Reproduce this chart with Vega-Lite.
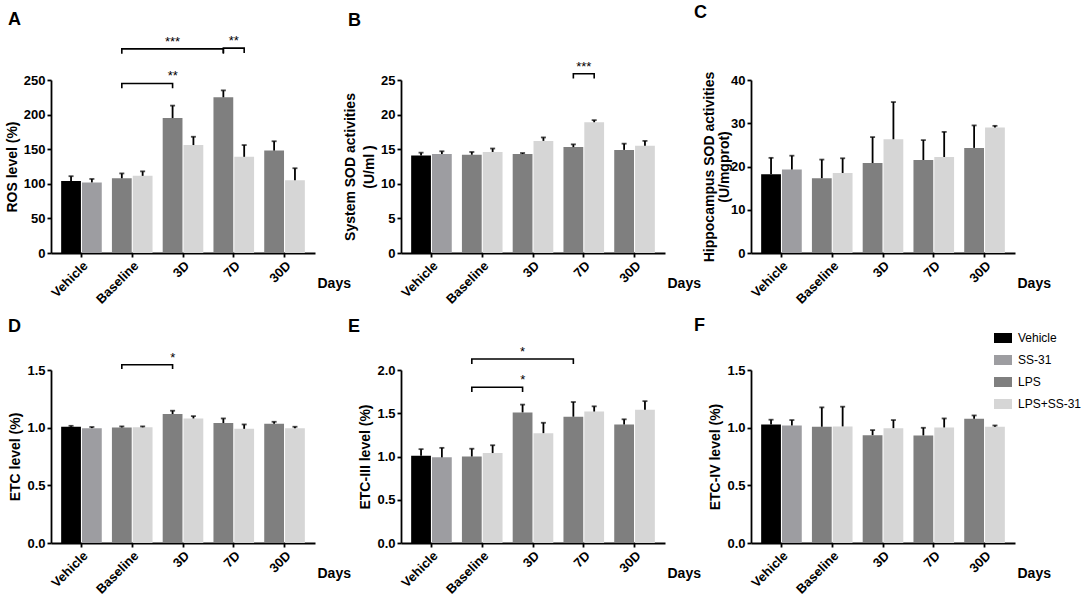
{
  "$schema": "https://vega.github.io/schema/vega-lite/v6.json",
  "padding": {"left": 5, "top": 4, "right": 0, "bottom": 0},
  "background": "white",
  "datasets": {
    "bars": [
      {"panel": "A", "day": "Vehicle", "ss": "without", "group": "Vehicle", "value": 104, "upper": 111},
      {"panel": "A", "day": "Vehicle", "ss": "with", "group": "SS-31", "value": 102, "upper": 107},
      {"panel": "A", "day": "Baseline", "ss": "without", "group": "LPS", "value": 108, "upper": 115},
      {"panel": "A", "day": "Baseline", "ss": "with", "group": "LPS+SS-31", "value": 111.5, "upper": 118},
      {"panel": "A", "day": "3D", "ss": "without", "group": "LPS", "value": 195, "upper": 213},
      {"panel": "A", "day": "3D", "ss": "with", "group": "LPS+SS-31", "value": 156, "upper": 168},
      {"panel": "A", "day": "7D", "ss": "without", "group": "LPS", "value": 225, "upper": 235},
      {"panel": "A", "day": "7D", "ss": "with", "group": "LPS+SS-31", "value": 139, "upper": 156},
      {"panel": "A", "day": "30D", "ss": "without", "group": "LPS", "value": 148, "upper": 161.5},
      {"panel": "A", "day": "30D", "ss": "with", "group": "LPS+SS-31", "value": 105, "upper": 122.5},
      {"panel": "B", "day": "Vehicle", "ss": "without", "group": "Vehicle", "value": 14.1, "upper": 14.5},
      {"panel": "B", "day": "Vehicle", "ss": "with", "group": "SS-31", "value": 14.3, "upper": 14.7},
      {"panel": "B", "day": "Baseline", "ss": "without", "group": "LPS", "value": 14.2, "upper": 14.6},
      {"panel": "B", "day": "Baseline", "ss": "with", "group": "LPS+SS-31", "value": 14.6, "upper": 15.1},
      {"panel": "B", "day": "3D", "ss": "without", "group": "LPS", "value": 14.3, "upper": 14.45},
      {"panel": "B", "day": "3D", "ss": "with", "group": "LPS+SS-31", "value": 16.2, "upper": 16.7},
      {"panel": "B", "day": "7D", "ss": "without", "group": "LPS", "value": 15.3, "upper": 15.7},
      {"panel": "B", "day": "7D", "ss": "with", "group": "LPS+SS-31", "value": 18.9, "upper": 19.2},
      {"panel": "B", "day": "30D", "ss": "without", "group": "LPS", "value": 14.9, "upper": 15.8},
      {"panel": "B", "day": "30D", "ss": "with", "group": "LPS+SS-31", "value": 15.5, "upper": 16.2},
      {"panel": "C", "day": "Vehicle", "ss": "without", "group": "Vehicle", "value": 18.2, "upper": 22.0},
      {"panel": "C", "day": "Vehicle", "ss": "with", "group": "SS-31", "value": 19.3, "upper": 22.5},
      {"panel": "C", "day": "Baseline", "ss": "without", "group": "LPS", "value": 17.3, "upper": 21.6},
      {"panel": "C", "day": "Baseline", "ss": "with", "group": "LPS+SS-31", "value": 18.5, "upper": 21.9},
      {"panel": "C", "day": "3D", "ss": "without", "group": "LPS", "value": 20.8, "upper": 26.8},
      {"panel": "C", "day": "3D", "ss": "with", "group": "LPS+SS-31", "value": 26.3, "upper": 34.9},
      {"panel": "C", "day": "7D", "ss": "without", "group": "LPS", "value": 21.5, "upper": 26.1},
      {"panel": "C", "day": "7D", "ss": "with", "group": "LPS+SS-31", "value": 22.2, "upper": 28.0},
      {"panel": "C", "day": "30D", "ss": "without", "group": "LPS", "value": 24.3, "upper": 29.5},
      {"panel": "C", "day": "30D", "ss": "with", "group": "LPS+SS-31", "value": 29.0, "upper": 29.4},
      {"panel": "D", "day": "Vehicle", "ss": "without", "group": "Vehicle", "value": 1.008, "upper": 1.016},
      {"panel": "D", "day": "Vehicle", "ss": "with", "group": "SS-31", "value": 0.996, "upper": 1.006},
      {"panel": "D", "day": "Baseline", "ss": "without", "group": "LPS", "value": 1.002, "upper": 1.011},
      {"panel": "D", "day": "Baseline", "ss": "with", "group": "LPS+SS-31", "value": 1.003, "upper": 1.011},
      {"panel": "D", "day": "3D", "ss": "without", "group": "LPS", "value": 1.118, "upper": 1.147},
      {"panel": "D", "day": "3D", "ss": "with", "group": "LPS+SS-31", "value": 1.08, "upper": 1.1},
      {"panel": "D", "day": "7D", "ss": "without", "group": "LPS", "value": 1.04, "upper": 1.08},
      {"panel": "D", "day": "7D", "ss": "with", "group": "LPS+SS-31", "value": 0.99, "upper": 1.028},
      {"panel": "D", "day": "30D", "ss": "without", "group": "LPS", "value": 1.034, "upper": 1.051},
      {"panel": "D", "day": "30D", "ss": "with", "group": "LPS+SS-31", "value": 0.996, "upper": 1.008},
      {"panel": "E", "day": "Vehicle", "ss": "without", "group": "Vehicle", "value": 1.01, "upper": 1.085},
      {"panel": "E", "day": "Vehicle", "ss": "with", "group": "SS-31", "value": 0.99, "upper": 1.1},
      {"panel": "E", "day": "Baseline", "ss": "without", "group": "LPS", "value": 1.0, "upper": 1.09},
      {"panel": "E", "day": "Baseline", "ss": "with", "group": "LPS+SS-31", "value": 1.04, "upper": 1.13},
      {"panel": "E", "day": "3D", "ss": "without", "group": "LPS", "value": 1.51, "upper": 1.6},
      {"panel": "E", "day": "3D", "ss": "with", "group": "LPS+SS-31", "value": 1.27, "upper": 1.39},
      {"panel": "E", "day": "7D", "ss": "without", "group": "LPS", "value": 1.46, "upper": 1.63},
      {"panel": "E", "day": "7D", "ss": "with", "group": "LPS+SS-31", "value": 1.52, "upper": 1.58},
      {"panel": "E", "day": "30D", "ss": "without", "group": "LPS", "value": 1.37, "upper": 1.43},
      {"panel": "E", "day": "30D", "ss": "with", "group": "LPS+SS-31", "value": 1.54, "upper": 1.64},
      {"panel": "F", "day": "Vehicle", "ss": "without", "group": "Vehicle", "value": 1.028, "upper": 1.069},
      {"panel": "F", "day": "Vehicle", "ss": "with", "group": "SS-31", "value": 1.019, "upper": 1.066},
      {"panel": "F", "day": "Baseline", "ss": "without", "group": "LPS", "value": 1.008, "upper": 1.176},
      {"panel": "F", "day": "Baseline", "ss": "with", "group": "LPS+SS-31", "value": 1.011, "upper": 1.182},
      {"panel": "F", "day": "3D", "ss": "without", "group": "LPS", "value": 0.935, "upper": 0.979},
      {"panel": "F", "day": "3D", "ss": "with", "group": "LPS+SS-31", "value": 0.996, "upper": 1.066},
      {"panel": "F", "day": "7D", "ss": "without", "group": "LPS", "value": 0.933, "upper": 0.999},
      {"panel": "F", "day": "7D", "ss": "with", "group": "LPS+SS-31", "value": 1.002, "upper": 1.08},
      {"panel": "F", "day": "30D", "ss": "without", "group": "LPS", "value": 1.077, "upper": 1.106},
      {"panel": "F", "day": "30D", "ss": "with", "group": "LPS+SS-31", "value": 1.008, "upper": 1.019}
    ],
    "brackets": [
      {"panel": "A", "id": "A1", "seq": 1, "day": "Baseline", "ss": "without", "y": 238},
      {"panel": "A", "id": "A1", "seq": 2, "day": "Baseline", "ss": "without", "y": 245},
      {"panel": "A", "id": "A1", "seq": 3, "day": "3D", "ss": "without", "y": 245},
      {"panel": "A", "id": "A1", "seq": 4, "day": "3D", "ss": "without", "y": 238},
      {"panel": "A", "id": "A2", "seq": 1, "day": "Baseline", "ss": "without", "y": 288},
      {"panel": "A", "id": "A2", "seq": 2, "day": "Baseline", "ss": "without", "y": 295},
      {"panel": "A", "id": "A2", "seq": 3, "day": "7D", "ss": "without", "y": 295},
      {"panel": "A", "id": "A2", "seq": 4, "day": "7D", "ss": "without", "y": 288},
      {"panel": "A", "id": "A3", "seq": 1, "day": "7D", "ss": "without", "y": 289},
      {"panel": "A", "id": "A3", "seq": 2, "day": "7D", "ss": "without", "y": 296},
      {"panel": "A", "id": "A3", "seq": 3, "day": "7D", "ss": "with", "y": 296},
      {"panel": "A", "id": "A3", "seq": 4, "day": "7D", "ss": "with", "y": 289},
      {"panel": "B", "id": "B1", "seq": 1, "day": "7D", "ss": "without", "y": 25.2},
      {"panel": "B", "id": "B1", "seq": 2, "day": "7D", "ss": "without", "y": 25.9},
      {"panel": "B", "id": "B1", "seq": 3, "day": "7D", "ss": "with", "y": 25.9},
      {"panel": "B", "id": "B1", "seq": 4, "day": "7D", "ss": "with", "y": 25.2},
      {"panel": "D", "id": "D1", "seq": 1, "day": "Baseline", "ss": "without", "y": 1.509},
      {"panel": "D", "id": "D1", "seq": 2, "day": "Baseline", "ss": "without", "y": 1.546},
      {"panel": "D", "id": "D1", "seq": 3, "day": "3D", "ss": "without", "y": 1.546},
      {"panel": "D", "id": "D1", "seq": 4, "day": "3D", "ss": "without", "y": 1.509},
      {"panel": "E", "id": "E1", "seq": 1, "day": "Baseline", "ss": "without", "y": 2.07},
      {"panel": "E", "id": "E1", "seq": 2, "day": "Baseline", "ss": "without", "y": 2.127},
      {"panel": "E", "id": "E1", "seq": 3, "day": "7D", "ss": "without", "y": 2.127},
      {"panel": "E", "id": "E1", "seq": 4, "day": "7D", "ss": "without", "y": 2.07},
      {"panel": "E", "id": "E2", "seq": 1, "day": "Baseline", "ss": "without", "y": 1.746},
      {"panel": "E", "id": "E2", "seq": 2, "day": "Baseline", "ss": "without", "y": 1.8},
      {"panel": "E", "id": "E2", "seq": 3, "day": "3D", "ss": "without", "y": 1.8},
      {"panel": "E", "id": "E2", "seq": 4, "day": "3D", "ss": "without", "y": 1.746}
    ],
    "stars": [
      {"panel": "A", "kind": "gap", "day": "Baseline", "ss": "without", "label": "**", "y": 245},
      {"panel": "A", "kind": "bar", "day": "3D", "ss": "without", "label": "***", "y": 295},
      {"panel": "A", "kind": "center", "day": "7D", "ss": "without", "label": "**", "y": 296},
      {"panel": "B", "kind": "center", "day": "7D", "ss": "without", "label": "***", "y": 25.9},
      {"panel": "D", "kind": "gap", "day": "Baseline", "ss": "without", "label": "*", "y": 1.546},
      {"panel": "E", "kind": "bar", "day": "3D", "ss": "without", "label": "*", "y": 2.127},
      {"panel": "E", "kind": "gap", "day": "Baseline", "ss": "without", "label": "*", "y": 1.8}
    ]
  },
  "columns": 3,
  "bounds": "flush",
  "spacing": {"row": 117, "column": 86},
  "concat": [
    {
      "title": {"text": "A", "dx": -43, "offset": 6},
      "width": 264, "height": 173,
      "encoding": {"x": {"field": "day", "type": "nominal", "scale": {"domain": ["Vehicle", "Baseline", "3D", "7D", "30D"]}, "axis": {"title": "Days", "labelAngle": -45}}},
      "layer": [
        {"data": {"name": "bars"}, "transform": [{"filter": "datum.panel == 'A'"}], "mark": {"type": "bar"},
         "encoding": {
           "xOffset": {"field": "ss", "type": "nominal", "scale": {"domain": ["without", "with"]}},
           "y": {"field": "value", "type": "quantitative", "scale": {"domain": [0, 250], "nice": false}, "axis": {"title": "ROS level (%)", "values": [0, 50, 100, 150, 200, 250]}},
           "color": {"field": "group", "type": "nominal", "scale": {"domain": ["Vehicle", "SS-31", "LPS", "LPS+SS-31"], "range": ["#000000", "#9d9da1", "#7f7f7f", "#d6d6d6"]}, "legend": {"title": null}}}},
        {"data": {"name": "bars"}, "transform": [{"filter": "datum.panel == 'A'"}], "mark": {"type": "rule", "color": "black", "strokeWidth": 1.8},
         "encoding": {
           "xOffset": {"field": "ss", "type": "nominal", "scale": {"domain": ["without", "with"]}},
           "y": {"field": "value", "type": "quantitative", "scale": {"domain": [0, 250], "nice": false}, "axis": {"title": "ROS level (%)", "values": [0, 50, 100, 150, 200, 250]}},
           "y2": {"field": "upper"}}},
        {"data": {"name": "bars"}, "transform": [{"filter": "datum.panel == 'A'"}], "mark": {"type": "tick", "color": "black", "thickness": 1.8, "size": 5},
         "encoding": {
           "xOffset": {"field": "ss", "type": "nominal", "scale": {"domain": ["without", "with"]}},
           "y": {"field": "upper", "type": "quantitative", "scale": {"domain": [0, 250], "nice": false}, "axis": {"title": "ROS level (%)", "values": [0, 50, 100, 150, 200, 250]}}}},
        {"data": {"name": "brackets"}, "transform": [{"filter": "datum.panel == 'A'"}], "mark": {"type": "line", "color": "black", "strokeWidth": 1.6},
         "encoding": {
           "xOffset": {"field": "ss", "type": "nominal", "scale": {"domain": ["without", "with"]}},
           "y": {"field": "y", "type": "quantitative", "scale": {"domain": [0, 250], "nice": false}, "axis": {"title": "ROS level (%)", "values": [0, 50, 100, 150, 200, 250]}},
           "detail": {"field": "id"},
           "order": {"field": "seq"}}},
        {"data": {"name": "stars"}, "transform": [{"filter": "datum.panel == 'A' && datum.kind == 'bar'"}], "mark": {"type": "text", "fontSize": 13, "dy": -3, "baseline": "alphabetic"},
         "encoding": {
           "xOffset": {"field": "ss", "type": "nominal", "scale": {"domain": ["without", "with"]}},
           "y": {"field": "y", "type": "quantitative", "scale": {"domain": [0, 250], "nice": false}, "axis": {"title": "ROS level (%)", "values": [0, 50, 100, 150, 200, 250]}},
           "text": {"field": "label"}}},
        {"data": {"name": "stars"}, "transform": [{"filter": "datum.panel == 'A' && datum.kind == 'center'"}], "mark": {"type": "text", "fontSize": 13, "dy": -3, "baseline": "alphabetic"},
         "encoding": {
           "y": {"field": "y", "type": "quantitative", "scale": {"domain": [0, 250], "nice": false}, "axis": {"title": "ROS level (%)", "values": [0, 50, 100, 150, 200, 250]}},
           "text": {"field": "label"}}},
        {"data": {"name": "stars"}, "transform": [{"filter": "datum.panel == 'A' && datum.kind == 'gap'"}], "mark": {"type": "text", "fontSize": 13, "dy": -3, "baseline": "alphabetic"},
         "encoding": {
           "x": {"field": "day", "type": "nominal", "bandPosition": 1.5, "scale": {"domain": ["Vehicle", "Baseline", "3D", "7D", "30D"]}, "axis": {"title": "Days", "labelAngle": -45}},
           "y": {"field": "y", "type": "quantitative", "scale": {"domain": [0, 250], "nice": false}, "axis": {"title": "ROS level (%)", "values": [0, 50, 100, 150, 200, 250]}},
           "text": {"field": "label"}}}
      ]
    },
    {
      "title": {"text": "B", "dx": -53, "offset": 31},
      "width": 264, "height": 173,
      "encoding": {"x": {"field": "day", "type": "nominal", "scale": {"domain": ["Vehicle", "Baseline", "3D", "7D", "30D"]}, "axis": {"title": "Days", "labelAngle": -45}}},
      "layer": [
        {"data": {"name": "bars"}, "transform": [{"filter": "datum.panel == 'B'"}], "mark": {"type": "bar"},
         "encoding": {
           "xOffset": {"field": "ss", "type": "nominal", "scale": {"domain": ["without", "with"]}},
           "y": {"field": "value", "type": "quantitative", "scale": {"domain": [0, 25], "nice": false}, "axis": {"title": ["System SOD activities", "(U/ml )"], "values": [0, 5, 10, 15, 20, 25]}},
           "color": {"field": "group", "type": "nominal", "scale": {"domain": ["Vehicle", "SS-31", "LPS", "LPS+SS-31"], "range": ["#000000", "#9d9da1", "#7f7f7f", "#d6d6d6"]}, "legend": {"title": null}}}},
        {"data": {"name": "bars"}, "transform": [{"filter": "datum.panel == 'B'"}], "mark": {"type": "rule", "color": "black", "strokeWidth": 1.8},
         "encoding": {
           "xOffset": {"field": "ss", "type": "nominal", "scale": {"domain": ["without", "with"]}},
           "y": {"field": "value", "type": "quantitative", "scale": {"domain": [0, 25], "nice": false}, "axis": {"title": ["System SOD activities", "(U/ml )"], "values": [0, 5, 10, 15, 20, 25]}},
           "y2": {"field": "upper"}}},
        {"data": {"name": "bars"}, "transform": [{"filter": "datum.panel == 'B'"}], "mark": {"type": "tick", "color": "black", "thickness": 1.8, "size": 5},
         "encoding": {
           "xOffset": {"field": "ss", "type": "nominal", "scale": {"domain": ["without", "with"]}},
           "y": {"field": "upper", "type": "quantitative", "scale": {"domain": [0, 25], "nice": false}, "axis": {"title": ["System SOD activities", "(U/ml )"], "values": [0, 5, 10, 15, 20, 25]}}}},
        {"data": {"name": "brackets"}, "transform": [{"filter": "datum.panel == 'B'"}], "mark": {"type": "line", "color": "black", "strokeWidth": 1.6},
         "encoding": {
           "xOffset": {"field": "ss", "type": "nominal", "scale": {"domain": ["without", "with"]}},
           "y": {"field": "y", "type": "quantitative", "scale": {"domain": [0, 25], "nice": false}, "axis": {"title": ["System SOD activities", "(U/ml )"], "values": [0, 5, 10, 15, 20, 25]}},
           "detail": {"field": "id"},
           "order": {"field": "seq"}}},
        {"data": {"name": "stars"}, "transform": [{"filter": "datum.panel == 'B' && datum.kind == 'center'"}], "mark": {"type": "text", "fontSize": 13, "dy": -3, "baseline": "alphabetic"},
         "encoding": {
           "y": {"field": "y", "type": "quantitative", "scale": {"domain": [0, 25], "nice": false}, "axis": {"title": ["System SOD activities", "(U/ml )"], "values": [0, 5, 10, 15, 20, 25]}},
           "text": {"field": "label"}}}
      ]
    },
    {
      "title": {"text": "C", "dx": -57, "offset": 49},
      "width": 264, "height": 173,
      "encoding": {"x": {"field": "day", "type": "nominal", "scale": {"domain": ["Vehicle", "Baseline", "3D", "7D", "30D"]}, "axis": {"title": "Days", "labelAngle": -45}}},
      "layer": [
        {"data": {"name": "bars"}, "transform": [{"filter": "datum.panel == 'C'"}], "mark": {"type": "bar"},
         "encoding": {
           "xOffset": {"field": "ss", "type": "nominal", "scale": {"domain": ["without", "with"]}},
           "y": {"field": "value", "type": "quantitative", "scale": {"domain": [0, 40], "nice": false}, "axis": {"title": ["Hippocampus SOD activities", "(U/mgprot)"], "values": [0, 10, 20, 30, 40], "titlePadding": -1, "titleLineHeight": 15}},
           "color": {"field": "group", "type": "nominal", "scale": {"domain": ["Vehicle", "SS-31", "LPS", "LPS+SS-31"], "range": ["#000000", "#9d9da1", "#7f7f7f", "#d6d6d6"]}, "legend": {"title": null}}}},
        {"data": {"name": "bars"}, "transform": [{"filter": "datum.panel == 'C'"}], "mark": {"type": "rule", "color": "black", "strokeWidth": 1.8},
         "encoding": {
           "xOffset": {"field": "ss", "type": "nominal", "scale": {"domain": ["without", "with"]}},
           "y": {"field": "value", "type": "quantitative", "scale": {"domain": [0, 40], "nice": false}, "axis": {"title": ["Hippocampus SOD activities", "(U/mgprot)"], "values": [0, 10, 20, 30, 40], "titlePadding": -1, "titleLineHeight": 15}},
           "y2": {"field": "upper"}}},
        {"data": {"name": "bars"}, "transform": [{"filter": "datum.panel == 'C'"}], "mark": {"type": "tick", "color": "black", "thickness": 1.8, "size": 5},
         "encoding": {
           "xOffset": {"field": "ss", "type": "nominal", "scale": {"domain": ["without", "with"]}},
           "y": {"field": "upper", "type": "quantitative", "scale": {"domain": [0, 40], "nice": false}, "axis": {"title": ["Hippocampus SOD activities", "(U/mgprot)"], "values": [0, 10, 20, 30, 40], "titlePadding": -1, "titleLineHeight": 15}}}}
      ]
    },
    {
      "title": {"text": "D", "dx": -43, "offset": 16},
      "width": 264, "height": 173,
      "encoding": {"x": {"field": "day", "type": "nominal", "scale": {"domain": ["Vehicle", "Baseline", "3D", "7D", "30D"]}, "axis": {"title": "Days", "labelAngle": -45}}},
      "layer": [
        {"data": {"name": "bars"}, "transform": [{"filter": "datum.panel == 'D'"}], "mark": {"type": "bar"},
         "encoding": {
           "xOffset": {"field": "ss", "type": "nominal", "scale": {"domain": ["without", "with"]}},
           "y": {"field": "value", "type": "quantitative", "scale": {"domain": [0, 1.5], "nice": false}, "axis": {"title": "ETC level (%)", "values": [0, 0.5, 1, 1.5], "format": ".1f"}},
           "color": {"field": "group", "type": "nominal", "scale": {"domain": ["Vehicle", "SS-31", "LPS", "LPS+SS-31"], "range": ["#000000", "#9d9da1", "#7f7f7f", "#d6d6d6"]}, "legend": {"title": null}}}},
        {"data": {"name": "bars"}, "transform": [{"filter": "datum.panel == 'D'"}], "mark": {"type": "rule", "color": "black", "strokeWidth": 1.8},
         "encoding": {
           "xOffset": {"field": "ss", "type": "nominal", "scale": {"domain": ["without", "with"]}},
           "y": {"field": "value", "type": "quantitative", "scale": {"domain": [0, 1.5], "nice": false}, "axis": {"title": "ETC level (%)", "values": [0, 0.5, 1, 1.5], "format": ".1f"}},
           "y2": {"field": "upper"}}},
        {"data": {"name": "bars"}, "transform": [{"filter": "datum.panel == 'D'"}], "mark": {"type": "tick", "color": "black", "thickness": 1.8, "size": 5},
         "encoding": {
           "xOffset": {"field": "ss", "type": "nominal", "scale": {"domain": ["without", "with"]}},
           "y": {"field": "upper", "type": "quantitative", "scale": {"domain": [0, 1.5], "nice": false}, "axis": {"title": "ETC level (%)", "values": [0, 0.5, 1, 1.5], "format": ".1f"}}}},
        {"data": {"name": "brackets"}, "transform": [{"filter": "datum.panel == 'D'"}], "mark": {"type": "line", "color": "black", "strokeWidth": 1.6},
         "encoding": {
           "xOffset": {"field": "ss", "type": "nominal", "scale": {"domain": ["without", "with"]}},
           "y": {"field": "y", "type": "quantitative", "scale": {"domain": [0, 1.5], "nice": false}, "axis": {"title": "ETC level (%)", "values": [0, 0.5, 1, 1.5], "format": ".1f"}},
           "detail": {"field": "id"},
           "order": {"field": "seq"}}},
        {"data": {"name": "stars"}, "transform": [{"filter": "datum.panel == 'D' && datum.kind == 'gap'"}], "mark": {"type": "text", "fontSize": 13, "dy": -3, "baseline": "alphabetic"},
         "encoding": {
           "x": {"field": "day", "type": "nominal", "bandPosition": 1.5, "scale": {"domain": ["Vehicle", "Baseline", "3D", "7D", "30D"]}, "axis": {"title": "Days", "labelAngle": -45}},
           "y": {"field": "y", "type": "quantitative", "scale": {"domain": [0, 1.5], "nice": false}, "axis": {"title": "ETC level (%)", "values": [0, 0.5, 1, 1.5], "format": ".1f"}},
           "text": {"field": "label"}}}
      ]
    },
    {
      "title": {"text": "E", "dx": -53, "offset": 10},
      "width": 264, "height": 173,
      "encoding": {"x": {"field": "day", "type": "nominal", "scale": {"domain": ["Vehicle", "Baseline", "3D", "7D", "30D"]}, "axis": {"title": "Days", "labelAngle": -45}}},
      "layer": [
        {"data": {"name": "bars"}, "transform": [{"filter": "datum.panel == 'E'"}], "mark": {"type": "bar"},
         "encoding": {
           "xOffset": {"field": "ss", "type": "nominal", "scale": {"domain": ["without", "with"]}},
           "y": {"field": "value", "type": "quantitative", "scale": {"domain": [0, 2], "nice": false}, "axis": {"title": "ETC-III level (%)", "values": [0, 0.5, 1, 1.5, 2], "format": ".1f"}},
           "color": {"field": "group", "type": "nominal", "scale": {"domain": ["Vehicle", "SS-31", "LPS", "LPS+SS-31"], "range": ["#000000", "#9d9da1", "#7f7f7f", "#d6d6d6"]}, "legend": {"title": null}}}},
        {"data": {"name": "bars"}, "transform": [{"filter": "datum.panel == 'E'"}], "mark": {"type": "rule", "color": "black", "strokeWidth": 1.8},
         "encoding": {
           "xOffset": {"field": "ss", "type": "nominal", "scale": {"domain": ["without", "with"]}},
           "y": {"field": "value", "type": "quantitative", "scale": {"domain": [0, 2], "nice": false}, "axis": {"title": "ETC-III level (%)", "values": [0, 0.5, 1, 1.5, 2], "format": ".1f"}},
           "y2": {"field": "upper"}}},
        {"data": {"name": "bars"}, "transform": [{"filter": "datum.panel == 'E'"}], "mark": {"type": "tick", "color": "black", "thickness": 1.8, "size": 5},
         "encoding": {
           "xOffset": {"field": "ss", "type": "nominal", "scale": {"domain": ["without", "with"]}},
           "y": {"field": "upper", "type": "quantitative", "scale": {"domain": [0, 2], "nice": false}, "axis": {"title": "ETC-III level (%)", "values": [0, 0.5, 1, 1.5, 2], "format": ".1f"}}}},
        {"data": {"name": "brackets"}, "transform": [{"filter": "datum.panel == 'E'"}], "mark": {"type": "line", "color": "black", "strokeWidth": 1.6},
         "encoding": {
           "xOffset": {"field": "ss", "type": "nominal", "scale": {"domain": ["without", "with"]}},
           "y": {"field": "y", "type": "quantitative", "scale": {"domain": [0, 2], "nice": false}, "axis": {"title": "ETC-III level (%)", "values": [0, 0.5, 1, 1.5, 2], "format": ".1f"}},
           "detail": {"field": "id"},
           "order": {"field": "seq"}}},
        {"data": {"name": "stars"}, "transform": [{"filter": "datum.panel == 'E' && datum.kind == 'bar'"}], "mark": {"type": "text", "fontSize": 13, "dy": -3, "baseline": "alphabetic"},
         "encoding": {
           "xOffset": {"field": "ss", "type": "nominal", "scale": {"domain": ["without", "with"]}},
           "y": {"field": "y", "type": "quantitative", "scale": {"domain": [0, 2], "nice": false}, "axis": {"title": "ETC-III level (%)", "values": [0, 0.5, 1, 1.5, 2], "format": ".1f"}},
           "text": {"field": "label"}}},
        {"data": {"name": "stars"}, "transform": [{"filter": "datum.panel == 'E' && datum.kind == 'gap'"}], "mark": {"type": "text", "fontSize": 13, "dy": -3, "baseline": "alphabetic"},
         "encoding": {
           "x": {"field": "day", "type": "nominal", "bandPosition": 1.5, "scale": {"domain": ["Vehicle", "Baseline", "3D", "7D", "30D"]}, "axis": {"title": "Days", "labelAngle": -45}},
           "y": {"field": "y", "type": "quantitative", "scale": {"domain": [0, 2], "nice": false}, "axis": {"title": "ETC-III level (%)", "values": [0, 0.5, 1, 1.5, 2], "format": ".1f"}},
           "text": {"field": "label"}}}
      ]
    },
    {
      "title": {"text": "F", "dx": -57, "offset": 29},
      "width": 264, "height": 173,
      "encoding": {"x": {"field": "day", "type": "nominal", "scale": {"domain": ["Vehicle", "Baseline", "3D", "7D", "30D"]}, "axis": {"title": "Days", "labelAngle": -45}}},
      "layer": [
        {"data": {"name": "bars"}, "transform": [{"filter": "datum.panel == 'F'"}], "mark": {"type": "bar"},
         "encoding": {
           "xOffset": {"field": "ss", "type": "nominal", "scale": {"domain": ["without", "with"]}},
           "y": {"field": "value", "type": "quantitative", "scale": {"domain": [0, 1.5], "nice": false}, "axis": {"title": "ETC-IV level (%)", "values": [0, 0.5, 1, 1.5], "format": ".1f"}},
           "color": {"field": "group", "type": "nominal", "scale": {"domain": ["Vehicle", "SS-31", "LPS", "LPS+SS-31"], "range": ["#000000", "#9d9da1", "#7f7f7f", "#d6d6d6"]}, "legend": {"title": null}}}},
        {"data": {"name": "bars"}, "transform": [{"filter": "datum.panel == 'F'"}], "mark": {"type": "rule", "color": "black", "strokeWidth": 1.8},
         "encoding": {
           "xOffset": {"field": "ss", "type": "nominal", "scale": {"domain": ["without", "with"]}},
           "y": {"field": "value", "type": "quantitative", "scale": {"domain": [0, 1.5], "nice": false}, "axis": {"title": "ETC-IV level (%)", "values": [0, 0.5, 1, 1.5], "format": ".1f"}},
           "y2": {"field": "upper"}}},
        {"data": {"name": "bars"}, "transform": [{"filter": "datum.panel == 'F'"}], "mark": {"type": "tick", "color": "black", "thickness": 1.8, "size": 5},
         "encoding": {
           "xOffset": {"field": "ss", "type": "nominal", "scale": {"domain": ["without", "with"]}},
           "y": {"field": "upper", "type": "quantitative", "scale": {"domain": [0, 1.5], "nice": false}, "axis": {"title": "ETC-IV level (%)", "values": [0, 0.5, 1, 1.5], "format": ".1f"}}}}
      ]
    }
  ],
  "config": {
    "font": "Liberation Sans",
    "view": {"stroke": null},
    "scale": {"bandPaddingInner": 0.6, "bandPaddingOuter": 0.3, "offsetBandPaddingInner": 0.05, "offsetBandPaddingOuter": 0},
    "bar": {"opacity": 1},
    "text": {"color": "black", "font": "Liberation Sans"},
    "title": {"font": "Liberation Sans", "fontSize": 18, "fontWeight": "bold", "anchor": "start", "frame": "group", "color": "black", "baseline": "bottom"},
    "axis": {
      "grid": false,
      "domainColor": "black", "domainWidth": 1.8,
      "tickColor": "black", "tickWidth": 1.8, "tickSize": 4,
      "labelColor": "black", "labelFont": "Liberation Sans", "labelFontSize": 13, "labelFontWeight": "bold", "labelPadding": 2,
      "titleColor": "black", "titleFont": "Liberation Sans", "titleFontSize": 14, "titleFontWeight": "bold"
    },
    "axisX": {"labelAngle": -45, "titleX": 266, "titleY": 30, "titleAlign": "left", "titleBaseline": "middle", "titleAngle": 0},
    "axisY": {"titlePadding": 4, "titleLineHeight": 19},
    "legend": {
      "orient": "none", "legendX": 946, "legendY": 252,
      "symbolType": "M-1.8,-1H1.8V1H-1.8Z", "symbolSize": 100, "symbolStrokeWidth": 0, "symbolOpacity": 1,
      "labelFont": "Liberation Sans", "labelFontSize": 12, "labelColor": "black", "labelOffset": 9, "rowPadding": 10
    }
  }
}
